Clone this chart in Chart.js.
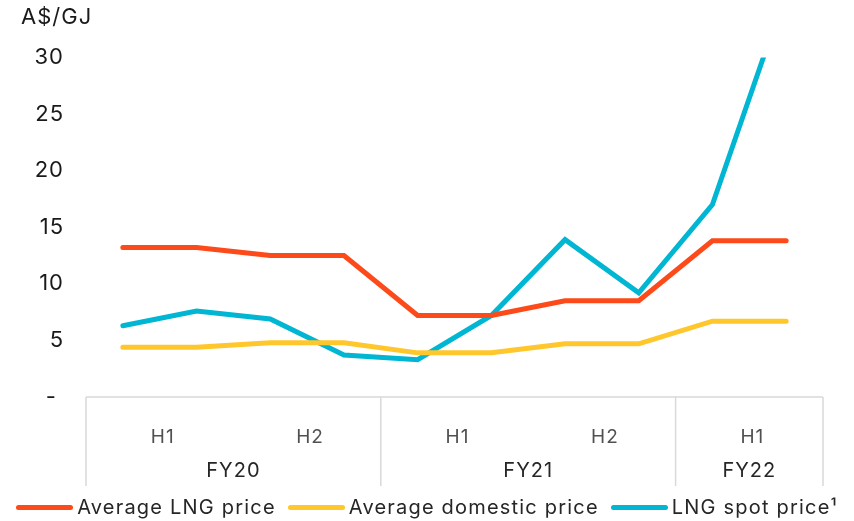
<!DOCTYPE html>
<html>
<head>
<meta charset="utf-8">
<script src="https://cdn.jsdelivr.net/npm/chart.js@4.4.1/dist/chart.umd.min.js"></script>
<style>
  html, body { margin: 0; padding: 0; background: #fff; }
  #wrap { position: relative; width: 854px; height: 521px; }
  #legend {
    position: absolute; left: 0; top: 494px; width: 854px; height: 26px;
    display: flex; justify-content: center; align-items: center;
    font-family: Inter, sans-serif; font-size: 20px; letter-spacing: 1.2px;
    color: #262626; white-space: nowrap;
  }
  #legend .item { display: flex; align-items: center; margin: 0 6px; }
  #legend .mark { width: 57px; height: 5px; border-radius: 3px; margin-right: 4px; }
</style>
</head>
<body>
<div id="wrap">
  <canvas id="chart" width="854" height="521"></canvas>
  <div id="legend"></div>
</div>
<script>
// each point sits in a financial-year half; two points per half
const periods = ['FY20 H1', 'FY20 H1', 'FY20 H2', 'FY20 H2', 'FY21 H1',
                 'FY21 H1', 'FY21 H2', 'FY21 H2', 'FY22 H1', 'FY22 H1'];
const avgLngPrice = [13.2, 13.2, 12.5, 12.5, 7.2, 7.2, 8.5, 8.5, 13.8, 13.8];
const avgDomesticPrice = [4.4, 4.4, 4.8, 4.8, 3.9, 3.9, 4.7, 4.7, 6.7, 6.7];
const lngSpotPrice = [6.3, 7.6, 6.9, 3.7, 3.3, 7.2, 13.9, 9.2, 17.0, 35.8];
const yTicks = [0, 5, 10, 15, 20, 25, 30];

const FONT = 'Inter, sans-serif';
const GRID = '#d9d9d9';

// the original font runs a little wider than Inter
const spacing = {
  id: 'spacing',
  beforeUpdate(chart) { chart.ctx.letterSpacing = '1px'; },
  beforeDraw(chart) { chart.ctx.letterSpacing = '1px'; }
};

// two-row category axis (half / financial year) with separator lines
const groupAxis = {
  id: 'groupAxis',
  afterDraw(chart) {
    const { ctx, chartArea } = chart;
    const x = chart.scales.x;
    const bottom = chartArea.bottom;
    const depth = 89;

    const runs = (keyOf) => {
      const out = [];
      periods.forEach((p, i) => {
        const k = keyOf(p);
        if (out.length && out[out.length - 1].key === k) out[out.length - 1].end = i;
        else out.push({ key: k, start: i, end: i });
      });
      return out;
    };
    const edge = (i) => {
      if (i <= 0) return chartArea.left;
      if (i >= periods.length) return chartArea.right;
      return (x.getPixelForValue(i - 1) + x.getPixelForValue(i)) / 2;
    };

    ctx.save();
    ctx.strokeStyle = GRID;
    ctx.lineWidth = 1.5;
    ctx.beginPath();
    ctx.moveTo(chartArea.left, bottom);
    ctx.lineTo(chartArea.right, bottom);
    const years = runs(p => p.split(' ')[0]);
    years.forEach(g => {
      const l = edge(g.start);
      ctx.moveTo(l, bottom);
      ctx.lineTo(l, bottom + depth);
    });
    ctx.moveTo(chartArea.right, bottom);
    ctx.lineTo(chartArea.right, bottom + depth);
    ctx.stroke();

    ctx.textAlign = 'center';
    ctx.textBaseline = 'middle';
    ctx.letterSpacing = '1px';
    ctx.fillStyle = '#505050';
    ctx.font = '19px ' + FONT;
    runs(p => p).forEach(g => {
      ctx.fillText(g.key.split(' ')[1], (edge(g.start) + edge(g.end + 1)) / 2 + 3, bottom + 40);
    });
    ctx.fillStyle = '#262626';
    ctx.font = '20px ' + FONT;
    years.forEach(g => {
      ctx.fillText(g.key, (edge(g.start) + edge(g.end + 1)) / 2, bottom + 74);
    });
    ctx.restore();
  }
};

const chart = new Chart(document.getElementById('chart'), {
  type: 'line',
  data: {
    labels: periods,
    datasets: [
      { label: 'Average LNG price', data: avgLngPrice, borderColor: '#fc4a1a' },
      { label: 'Average domestic price', data: avgDomesticPrice, borderColor: '#ffc72c' },
      { label: 'LNG spot price\u00b9', data: lngSpotPrice, borderColor: '#00b6d3' }
    ]
  },
  options: {
    responsive: false,
    animation: false,
    clip: 0,
    layout: { padding: { left: 21, right: 31, top: 0, bottom: 31 } },
    datasets: {
      line: {
        borderWidth: 5,
        pointRadius: 0,
        tension: 0,
        borderCapStyle: 'round',
        borderJoinStyle: 'miter'
      }
    },
    plugins: {
      legend: { display: false },
      tooltip: { enabled: false },
      title: {
        display: true,
        text: 'A$/GJ',
        align: 'start',
        color: '#1a1a1a',
        font: { family: FONT, size: 22, weight: 'normal' },
        padding: { top: 4, bottom: 27 }
      }
    },
    scales: {
      x: {
        offset: true,
        grid: { display: false },
        border: { display: false },
        ticks: { display: false },
        afterFit: s => { s.height = 93; }
      },
      y: {
        min: 0,
        max: 30,
        grid: { display: false, drawTicks: false },
        border: { display: false },
        afterBuildTicks: s => { s.ticks = yTicks.map(v => ({ value: v })); },
        afterFit: s => { s.width = 65; },
        ticks: {
          padding: 22,
          color: '#1a1a1a',
          font: { family: FONT, size: 22 },
          callback: v => (v === 0 ? '- ' : v)
        }
      }
    }
  },
  plugins: [spacing, groupAxis]
});

// HTML legend built from the datasets
const legend = document.getElementById('legend');
chart.data.datasets.forEach(ds => {
  const item = document.createElement('div');
  item.className = 'item';
  const mark = document.createElement('span');
  mark.className = 'mark';
  mark.style.background = ds.borderColor;
  const text = document.createElement('span');
  text.textContent = ds.label;
  item.appendChild(mark);
  item.appendChild(text);
  legend.appendChild(item);
});
</script>
</body>
</html>
